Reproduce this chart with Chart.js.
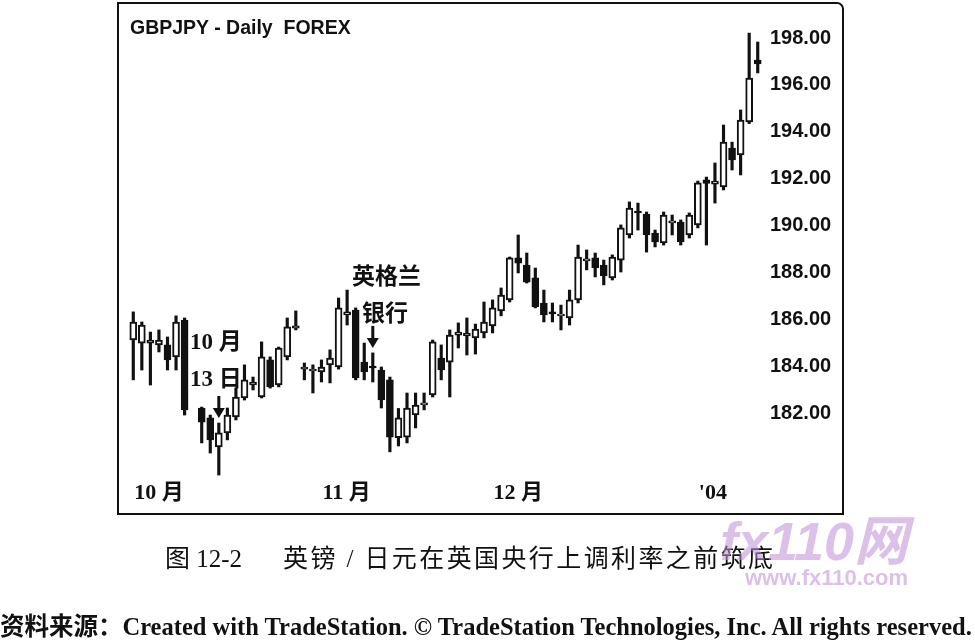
<!DOCTYPE html>
<html lang="zh">
<head>
<meta charset="UTF-8">
<title>GBPJPY - Daily FOREX</title>
<script src="https://cdn.jsdelivr.net/npm/chart.js"></script>
<style>
    body { margin: 0; background: #fff; }
    #wrap { position: relative; width: 975px; height: 641px; overflow: hidden; background: #fff; }
    #chart { position: absolute; left: 0; top: 0; }
    #frame { position: absolute; left: 117px; top: 2px; width: 723px; height: 509px; border: 2px solid #111; border-top-right-radius: 7px; pointer-events: none; }
    .txt { position: absolute; white-space: pre; color: #111; line-height: 1; }
    #title { left: 130px; top: 16px; font: bold 19.5px 'Liberation Sans', Arial, sans-serif; }
    .note { font: bold 23px 'Liberation Serif', 'Noto Sans CJK SC', serif; }
    .cap { top: 538px; font: 25px 'Liberation Serif', 'Noto Sans CJK SC', serif; }
    #source { left: 0; top: 607px; font: bold 24.5px 'Liberation Serif', 'Noto Sans CJK SC', serif; }
    .wm { color: rgba(190, 140, 215, 0.55); font-family: 'Liberation Sans', 'Noto Sans CJK SC', sans-serif; font-weight: bold; }
</style>
</head>
<body>
<div id="wrap">
    <canvas id="chart" width="975" height="641"></canvas>
    <div id="frame"></div>
    <div id="title" class="txt">GBPJPY - Daily  FOREX</div>
    <!-- annotations -->
    <div class="txt note" style="left:190px; top:322px;">10 月</div>
    <div class="txt note" style="left:190px; top:359px;">13 日</div>
    <div class="txt note" style="left:352px; top:257px;">英格兰</div>
    <div class="txt note" style="left:362px; top:294px;">银行</div>
    <!-- caption -->
    <div class="txt cap" style="left:165px;">图 12-2</div>
    <div class="txt cap" style="left:283px; letter-spacing:2.4px;">英镑 / 日元在英国央行上调利率之前筑底</div>
    <div class="txt wm" style="left:720px; top:514px; font-size:54px; font-style:italic;">fx110网</div>
    <div class="txt wm" style="left:745px; top:567px; font-size:22px;">www.fx110.com</div>
    <div id="source" class="txt">资料来源：Created with TradeStation. © TradeStation Technologies, Inc. All rights reserved.</div>
</div>

<script>
    // GBPJPY daily, Oct 2003 - early Jan 2004 (null = empty slot)
    const OPEN = [185.12, 184.99, 184.99, 184.91, 184.91, 184.40, 185.97, null, 182.22, 181.80,
        180.56, 181.16, 181.84, 182.65, 183.20, 182.69, 184.27, 183.20, 184.40, 185.63,
        183.88, 183.80, 183.76, 184.06, 183.97, 186.19, 186.40, 184.18, 184.01, 183.84,
        183.42, 180.95, 180.98, 181.92, 182.35, 182.78, 184.35, 184.18, 185.33, 185.29,
        185.21, 185.42, 185.72, 186.36, 186.83, 188.62, 188.32, 187.77, 186.70, 186.32,
        186.15, 186.06, 186.83, 188.49, 188.62, 188.32, 187.77, 188.53, 189.60, 190.62,
        190.49, 189.68, 189.26, 190.11, 190.15, 189.60, 190.03, 191.95, 191.77, 191.65,
        193.31, 193.01, 194.42, 197.06];
    const HIGH = [186.32, 185.89, 185.46, 185.55, 185.25, 186.15, 186.06, null, 182.26, 181.92,
        181.58, 182.22, 183.07, 184.06, 183.54, 185.04, 184.40, 184.82, 186.06, 186.36,
        184.14, 184.06, 184.27, 184.70, 186.91, 187.25, 186.49, 184.99, 184.57, 183.97,
        183.54, 182.20, 182.86, 182.86, 182.86, 185.12, 184.91, 185.55, 185.85, 186.06,
        185.80, 186.74, 186.83, 187.34, 188.66, 189.60, 188.83, 188.19, 187.25, 186.70,
        186.61, 187.25, 189.17, 188.96, 188.83, 188.53, 188.75, 190.03, 191.01, 190.96,
        190.58, 189.81, 190.58, 190.45, 190.24, 190.54, 191.90, 192.07, 192.67, 194.29,
        193.56, 194.93, 198.21, 197.83];
    const LOW = [183.42, 183.84, 183.20, 184.61, 183.84, 183.84, 181.92, null, 180.73, 180.30,
        179.36, 180.86, 181.71, 182.56, 182.99, 182.65, 183.07, 183.12, 184.27, 185.55,
        183.42, 182.86, 183.33, 183.29, 183.88, 185.76, 183.42, 183.42, 183.33, 182.22,
        180.35, 180.60, 180.73, 181.37, 182.14, 182.69, 183.42, 182.69, 184.78, 184.48,
        184.52, 185.21, 185.42, 186.15, 186.74, 187.98, 187.55, 186.49, 185.89, 185.89,
        185.55, 185.76, 186.70, 188.11, 187.81, 187.47, 187.68, 188.02, 189.47, 189.81,
        188.87, 189.09, 189.17, 189.60, 189.17, 189.47, 189.90, 189.17, 190.96, 191.52,
        192.37, 192.16, 194.35, 196.51];
    const CLOSE = [185.89, 185.76, 185.12, 185.12, 184.27, 185.89, 182.14, null, 181.62, 180.86,
        181.16, 181.92, 182.69, 183.42, 183.33, 184.40, 183.12, 184.78, 185.68, 185.72,
        183.97, 183.88, 183.97, 184.35, 186.49, 186.32, 183.50, 183.76, 183.93, 182.56,
        180.98, 181.80, 182.22, 182.35, 182.44, 185.04, 183.84, 185.33, 185.46, 185.42,
        185.59, 185.89, 186.49, 187.04, 188.62, 188.40, 187.59, 186.53, 186.19, 186.23,
        186.23, 186.83, 188.66, 188.58, 188.19, 187.85, 188.66, 189.90, 190.75, 190.54,
        189.60, 189.30, 190.45, 190.20, 189.30, 190.45, 191.82, 191.80, 191.90, 193.56,
        192.80, 194.50, 196.29, 196.89];

    const YTICKS = [182, 184, 186, 188, 190, 192, 194, 196, 198];
    const MONTHS = ['10 月', '11 月', '12 月', "'04"];
    const MONTH_AT = [0, 22, 42, 66];   // bar slot where each month starts
    const ARROW_AT = [10, 28];          // 13 Oct and the BoE bar

    const SLOTS = OPEN.map((_, i) => i);
    const bodies = OPEN.map((o, i) => o == null ? null : [o, CLOSE[i]]);
    const wicks = LOW.map((l, i) => l == null ? null : [l, HIGH[i]]);
    const bodyFill = OPEN.map((o, i) => CLOSE[i] >= o ? '#fff' : '#111');

    // month names sit inside the plot, along its bottom
    const monthLabels = {
        id: 'monthLabels',
        afterDatasetsDraw(chart) {
            const { ctx, chartArea, scales: { x } } = chart;
            ctx.save();
            ctx.fillStyle = '#111';
            ctx.font = "bold 22px 'Liberation Serif', 'Noto Sans CJK SC', serif";
            ctx.textAlign = 'left';
            ctx.textBaseline = 'middle';
            MONTHS.forEach((m, k) => {
                ctx.fillText(m, x.getPixelForValue(MONTH_AT[k]) + 1, chartArea.bottom - 17);
            });
            ctx.restore();
        }
    };

    // down arrows over the marked bars
    const arrowMarks = {
        id: 'arrowMarks',
        afterDatasetsDraw(chart) {
            const { ctx, scales: { x, y } } = chart;
            ctx.save();
            ctx.fillStyle = '#111';
            ARROW_AT.forEach(i => {
                const cx = x.getPixelForValue(i);
                const tip = y.getPixelForValue(HIGH[i]) - 5;
                ctx.fillRect(cx - 1.5, tip - 22, 3, 13);
                ctx.beginPath();
                ctx.moveTo(cx - 6, tip - 10);
                ctx.lineTo(cx + 6, tip - 10);
                ctx.lineTo(cx, tip);
                ctx.closePath();
                ctx.fill();
            });
            ctx.restore();
        }
    };

    new Chart(document.getElementById('chart'), {
        type: 'bar',
        data: {
            labels: SLOTS,
            datasets: [
                {
                    label: 'body',
                    data: bodies,
                    backgroundColor: bodyFill,
                    borderColor: '#111',
                    borderWidth: 2,
                    borderSkipped: false,
                    barThickness: 7,
                    grouped: false,
                    order: 0
                },
                {
                    label: 'wick',
                    data: wicks,
                    backgroundColor: '#111',
                    barThickness: 2.5,
                    grouped: false,
                    order: 1
                }
            ]
        },
        options: {
            responsive: false,
            animation: false,
            layout: { padding: { left: 129, right: 133, top: 8, bottom: 131 } },
            plugins: {
                legend: { display: false },
                tooltip: { enabled: false }
            },
            scales: {
                x: { display: false },
                y: {
                    position: 'right',
                    min: 177.87,
                    max: 199.28,
                    grid: { display: false, drawTicks: false },
                    border: { display: false },
                    afterBuildTicks: s => { s.ticks = YTICKS.map(v => ({ value: v })); },
                    afterFit: s => {
                        s.width = 80;
                        s.paddingTop = 0;
                        s.paddingBottom = 0;
                    },
                    ticks: {
                        color: '#111',
                        padding: 8,
                        font: { family: "'Liberation Sans', Arial, sans-serif", size: 20, weight: 'bold' },
                        callback: v => Number(v).toFixed(2)
                    }
                }
            }
        },
        plugins: [monthLabels, arrowMarks]
    });
</script>
</body>
</html>
